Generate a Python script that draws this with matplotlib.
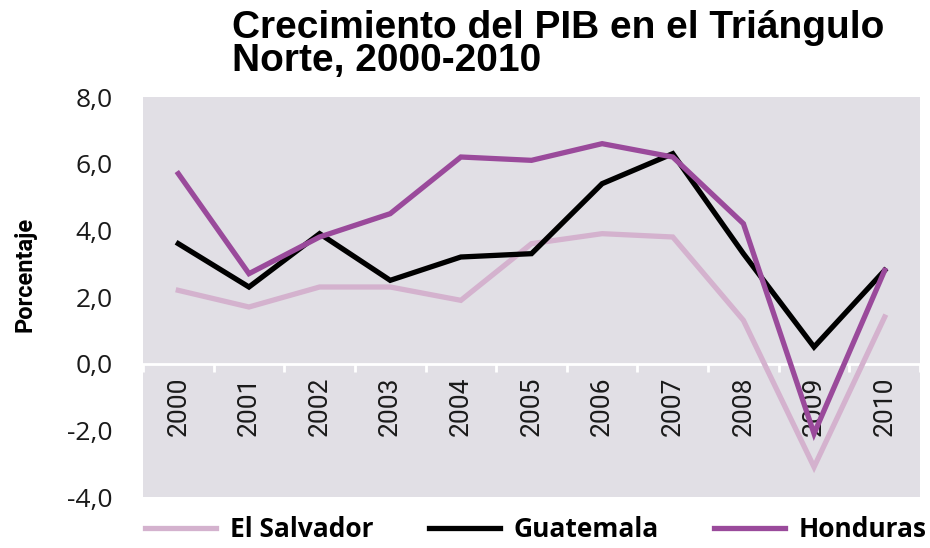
import matplotlib
matplotlib.use("Agg")
import matplotlib.pyplot as plt
from matplotlib.ticker import FixedLocator, FuncFormatter

years = ["2000", "2001", "2002", "2003", "2004", "2005", "2006", "2007", "2008", "2009", "2010"]
el_salvador = [2.2, 1.7, 2.3, 2.3, 1.9, 3.6, 3.9, 3.8, 1.3, -3.1, 1.4]
guatemala = [3.6, 2.3, 3.9, 2.5, 3.2, 3.3, 5.4, 6.3, 3.3, 0.5, 2.8]
honduras = [5.7, 2.7, 3.8, 4.5, 6.2, 6.1, 6.6, 6.2, 4.2, -2.1, 2.8]
series_names = ["El Salvador", "Guatemala", "Honduras"]
y_ticks = [-4, -2, 0, 2, 4, 6, 8]

fig = plt.figure(figsize=(9.3, 5.48), dpi=100)
ax = fig.add_axes([143/930, 1-497/548, (920-143)/930, 400/548])
ax.set_facecolor("#E1DFE5")
for s in ["top", "right", "left"]:
    ax.spines[s].set_visible(False)

x = list(range(len(years)))
colors = ["#D4B2CE", "#000000", "#9A4A9B"]
for vals, c, n in zip([el_salvador, guatemala, honduras], colors, series_names):
    ax.plot(x, vals, color=c, lw=3.8, label=n, solid_joinstyle="miter", zorder=3)

ax.set_xlim(-0.5, len(years) - 0.5)
ax.set_ylim(-4, 8)
ax.set_yticks(y_ticks)
ax.yaxis.set_major_formatter(FuncFormatter(lambda v, p: f"{v:.1f}".replace(".", ",")))
ax.tick_params(axis="y", length=0, pad=22, labelsize=19, labelcolor="#1a1a1a")
for lab in ax.get_yticklabels():
    lab.set_family("Open Sans")

ax.spines["bottom"].set_position(("data", 0))
ax.spines["bottom"].set_color("white")
ax.spines["bottom"].set_linewidth(2)
ax.spines["bottom"].set_zorder(2)
ax.set_xticks(x)
ax.set_xticklabels(years, rotation=90, family="Roboto", fontweight="normal", fontsize=19, color="#1a1a1a")
ax.xaxis.set_minor_locator(FixedLocator([i - 0.5 for i in range(len(years) + 1)]))
ax.tick_params(axis="x", which="major", length=0, pad=9)
ax.tick_params(axis="x", which="minor", length=6, width=2, color="white", direction="out")

fig.text(25/930, 1-274/548, "Porcentaje", rotation=90, ha="center", va="center",
         family="Roboto", fontweight="bold", fontsize=17)

fig.text(232/930, 1-10/548, "Crecimiento del PIB en el Triángulo\nNorte, 2000-2010",
         ha="left", va="top", family="Liberation Sans", fontweight="bold",
         fontsize=28, linespacing=0.9)

leg = fig.legend(loc="lower center", bbox_to_anchor=(0.576, -0.035), ncol=3, frameon=False,
                 handlelength=2.7, handletextpad=0.5, columnspacing=2.1,
                 prop={"family": "Open Sans", "weight": "bold", "size": 19})

fig.savefig("out.png", dpi=100)
